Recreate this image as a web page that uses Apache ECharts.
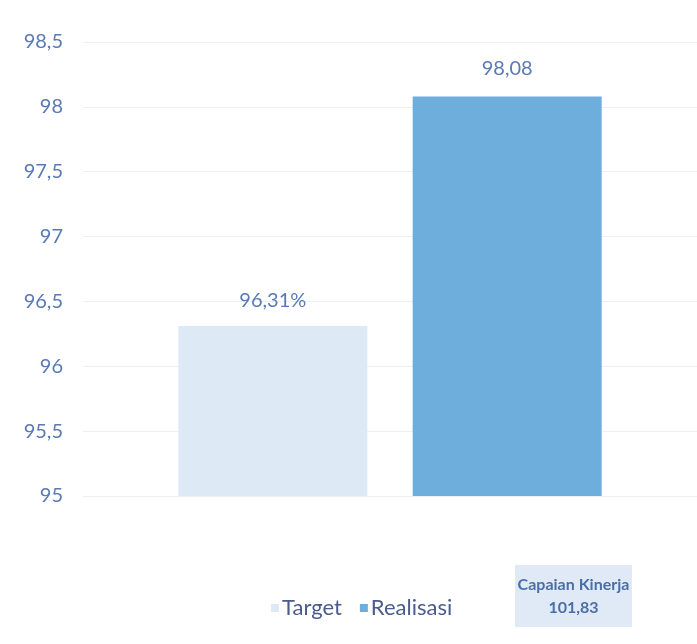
<!DOCTYPE html>
<html>
<head>
<meta charset="utf-8">
<script src="https://cdn.jsdelivr.net/npm/echarts@6/dist/echarts.min.js"></script>
<style>
  html, body { margin: 0; padding: 0; background: #fff; }
  #myChart { width: 697px; height: 644px; }
</style>
</head>
<body>
<div id="myChart"></div>
<script>
// data
const categories = ['']
const seriesNames = ['Target', 'Realisasi']
const targetValues = [96.31]
const realisasiValues = [98.08]
const capaianText = 'Capaian Kinerja\n101,83'

const fmt = v => String(v).replace('.', ',')

const myChart = echarts.init(document.getElementById('myChart'))
myChart.setOption({
  textStyle: { fontFamily: 'Lato' },
  grid: { left: 83, right: 0, top: 42, bottom: 148 },
  legend: {
    data: seriesNames,
    top: 592,
    left: 266,
    itemWidth: 8,
    itemHeight: 8,
    itemGap: 18,
    icon: 'rect',
    textStyle: { color: '#4b5b8c', fontSize: 22, fontFamily: 'Lato', padding: [0, 0, 0, -2] }
  },
  xAxis: {
    type: 'category',
    data: categories,
    axisLine: { show: false },
    axisTick: { show: false },
    axisLabel: { show: false }
  },
  yAxis: {
    type: 'value',
    min: 95,
    max: 98.5,
    interval: 0.5,
    axisLine: { show: false },
    axisTick: { show: false },
    splitLine: { lineStyle: { color: '#efefef' } },
    axisLabel: {
      color: '#5a7ab5',
      fontSize: 20,
      margin: 20,
      formatter: v => fmt(v)
    }
  },
  series: [
    {
      name: 'Target',
      type: 'bar',
      data: targetValues,
      barWidth: 189,
      barGap: '24%',
      itemStyle: { color: '#ddeaf6' },
      label: {
        show: true,
        position: 'top',
        distance: 16,
        color: '#5a7ab5',
        fontSize: 20,
        formatter: p => fmt(p.value) + '%'
      }
    },
    {
      name: 'Realisasi',
      type: 'bar',
      data: realisasiValues,
      barWidth: 189,
      itemStyle: { color: '#6eaedd' },
      label: {
        show: true,
        position: 'top',
        distance: 18,
        color: '#5a7ab5',
        fontSize: 20,
        formatter: p => fmt(p.value)
      }
    }
  ],
  graphic: [
    {
      type: 'group',
      left: 515,
      top: 565,
      children: [
        {
          type: 'rect',
          shape: { x: 0, y: 0, width: 117, height: 62 },
          style: { fill: '#dfeaf6' }
        },
        {
          type: 'text',
          x: 58.5,
          y: 8,
          style: {
            text: capaianText,
            fill: '#4a6ea8',
            font: 'bold 16px Lato',
            align: 'center',
            lineHeight: 23
          }
        }
      ]
    }
  ]
})
</script>
</body>
</html>
